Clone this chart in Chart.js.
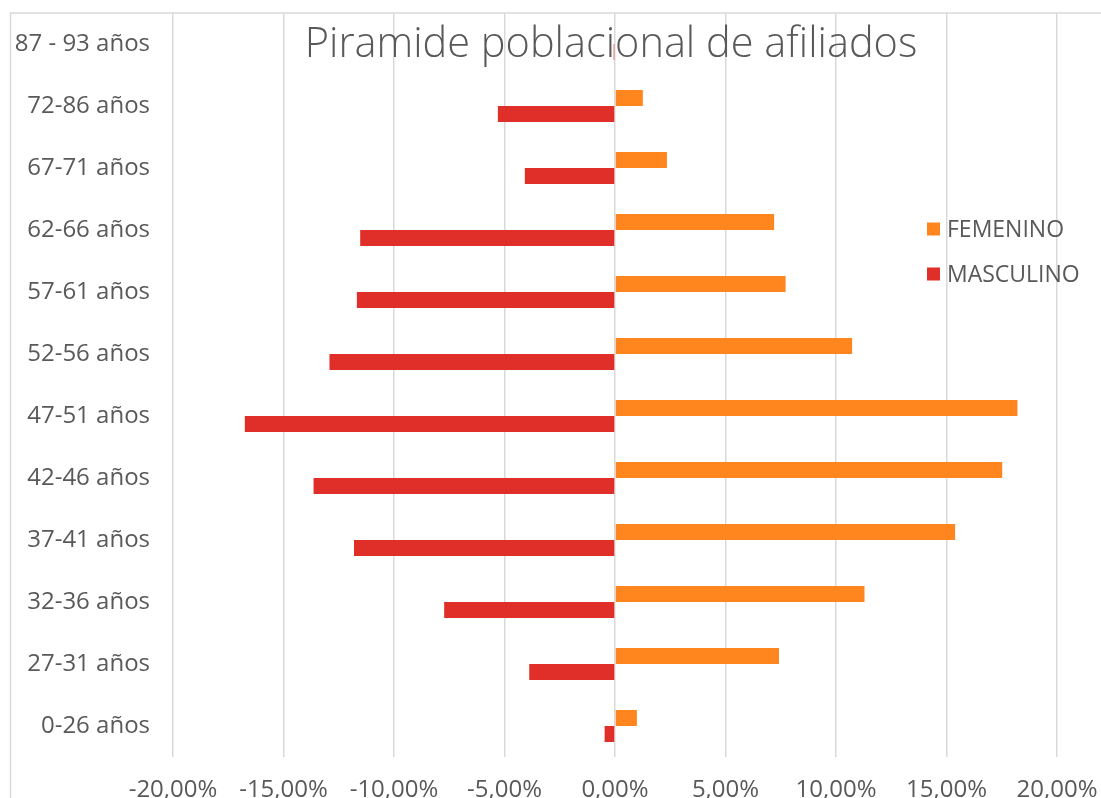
<!DOCTYPE html>
<html>
<head>
<meta charset="utf-8">
<title>Piramide poblacional de afiliados</title>
<script src="https://cdn.jsdelivr.net/npm/chart.js@4/dist/chart.umd.min.js"></script>
<style>
  body { margin: 0; background: #fff; }
  #wrap { width: 1101px; height: 798px; }
</style>
</head>
<body>
<div id="wrap"><canvas id="myChart" width="1101" height="798"></canvas></div>
<script>
const titulo = 'Piramide poblacional de afiliados';
const categorias = ['87 - 93 años', '72-86 años', '67-71 años', '62-66 años', '57-61 años', '52-56 años',
                    '47-51 años', '42-46 años', '37-41 años', '32-36 años', '27-31 años', '0-26 años'];
const femenino = [0, 1.26, 2.35, 7.2, 7.72, 10.73, 18.21, 17.52, 15.39, 11.29, 7.42, 0.99];
const masculino = [-0.06, -5.3, -4.08, -11.53, -11.68, -12.92, -16.75, -13.64, -11.81, -7.73, -3.88, -0.47];
const ticksX = [-20, -15, -10, -5, 0, 5, 10, 15, 20];

const gris = '#595959';
const lineaGris = '#d9d9d9';
const fuente = '"Open Sans", "Noto Sans", sans-serif';

// title and legend sit on top of the plot area, like the Excel original
const overlay = {
    id: 'overlay',
    beforeDraw(chart) {
        const ctx = chart.ctx;
        ctx.save();
        ctx.strokeStyle = lineaGris;
        ctx.lineWidth = 1.5;
        ctx.strokeRect(10.5, 13, 1200, 900); // outer chart frame, cut off by the picture
        ctx.restore();
    },
    afterDraw(chart) {
        const ctx = chart.ctx;
        ctx.save();
        ctx.fillStyle = gris;
        ctx.font = '300 41.5px ' + fuente;
        ctx.textAlign = 'center';
        ctx.textBaseline = 'alphabetic';
        ctx.fillText(titulo, 611, 57);

        ctx.font = '23px ' + fuente;
        ctx.textAlign = 'left';
        ctx.textBaseline = 'middle';
        chart.data.datasets.forEach((ds, i) => {
            const y = 229 + i * 45;
            ctx.fillStyle = ds.backgroundColor;
            ctx.fillRect(927, y - 6.5, 13, 13);
            ctx.fillStyle = gris;
            ctx.fillText(ds.label, 947, y + 1);
        });
        ctx.restore();
    }
};

let ctx = document.getElementById('myChart').getContext('2d');
let chart = new Chart(ctx, {
    type: 'bar',
    data: {
        labels: categorias,
        datasets: [{
            label: 'FEMENINO',
            data: femenino,
            backgroundColor: '#FF851E',
            barPercentage: 1,
            categoryPercentage: 0.516
        }, {
            label: 'MASCULINO',
            data: masculino,
            backgroundColor: '#E02E29',
            barPercentage: 1,
            categoryPercentage: 0.516
        }]
    },
    options: {
        indexAxis: 'y',
        responsive: false,
        animation: false,
        layout: {
            padding: { top: 13, right: 44, left: 0, bottom: 0 }
        },
        plugins: {
            legend: { display: false },
            tooltip: { enabled: false }
        },
        scales: {
            x: {
                min: -20,
                max: 20,
                afterFit(scale) {
                    scale.height = 41;
                    scale.paddingLeft = 0;
                    scale.paddingRight = 0;
                },
                afterBuildTicks(scale) {
                    scale.ticks = ticksX.map(v => ({ value: v }));
                },
                ticks: {
                    color: gris,
                    font: { family: fuente, size: 24 },
                    padding: 19,
                    maxRotation: 0,
                    callback: v => v.toFixed(2).replace('.', ',') + '%'
                },
                grid: {
                    color: lineaGris,
                    lineWidth: 1.5,
                    drawTicks: false
                },
                border: { display: false }
            },
            y: {
                afterFit(scale) {
                    scale.width = 173;
                    scale.paddingTop = 0;
                    scale.paddingBottom = 0;
                },
                ticks: {
                    color: gris,
                    font: { family: fuente, size: 24 },
                    padding: 23
                },
                grid: { display: false, drawTicks: false },
                border: { display: false }
            }
        }
    },
    plugins: [overlay]
});
</script>
</body>
</html>
